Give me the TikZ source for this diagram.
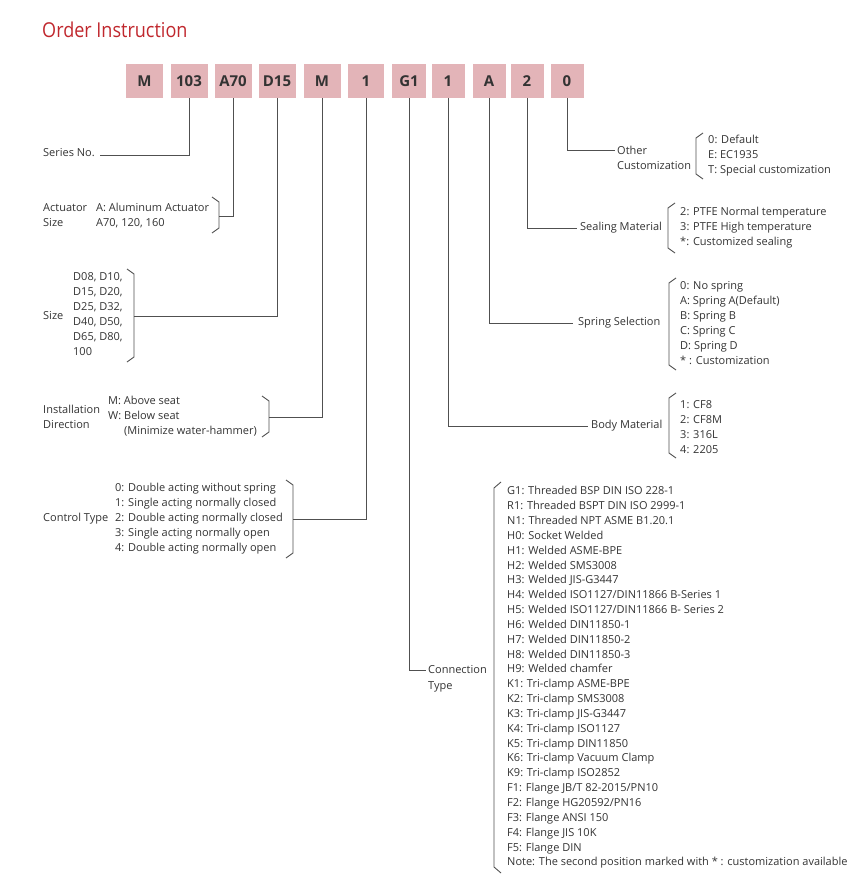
\documentclass[tikz,border=0pt]{standalone}
\usepackage{fontspec}
\setmainfont{Open Sans}
\newfontfamily\titlefont{Open Sans}[FakeStretch=0.88]
\definecolor{boxpink}{HTML}{E3B4B8}
\definecolor{txt}{HTML}{333333}
\definecolor{ln}{HTML}{505050}
\definecolor{titlered}{HTML}{C0272D}
\begin{document}
\begin{tikzpicture}[x=1pt,y=-1pt,
  codebox/.style={fill=boxpink, draw=none, minimum height=34pt, inner sep=0,
    font=\fontsize{15}{18}\selectfont\bfseries, text=txt},
  lbl/.style={inner sep=0, font=\fontsize{11}{15}\selectfont, text=txt, align=left, anchor=west},
  conn/.style={draw=ln, line width=0.9pt},
]
\useasboundingbox (0,0) rectangle (867,878);
% title
\node[anchor=base west, inner sep=0, text=titlered, font=\titlefont\fontsize{20.5}{24}\selectfont] (title) at (42,37) {Order Instruction};
% code boxes
\node[codebox, minimum width=37pt] (b1) at (144.5,81) {M};
\node[codebox, minimum width=37pt] (b2) at (189,81) {103};
\node[codebox, minimum width=37pt] (b3) at (233,81) {A70};
\node[codebox, minimum width=37pt] (b4) at (277,81) {D15};
\node[codebox, minimum width=37pt] (b5) at (322,81) {M};
\node[codebox, minimum width=36pt] (b6) at (366,81) {1};
\node[codebox, minimum width=34pt] (b7) at (409,81) {G1};
\node[codebox, minimum width=33pt] (b8) at (448,81) {1};
\node[codebox, minimum width=33pt] (b9) at (489,81) {A};
\node[codebox, minimum width=33pt] (b10) at (527,81) {2};
\node[codebox, minimum width=33pt] (b11) at (567,81) {0};
% left side labels
\node[lbl] (series) at (43,153) {Series No.};
\node[lbl] (actL) at (43,215.5) {Actuator\\Size};
\node[lbl] (actI) at (96,215.5) {A: Aluminum Actuator\\A70, 120, 160};
\node[lbl] (sizeL) at (43,316) {Size};
\node[lbl] (sizeI) at (73,314.5) {D08, D10,\\D15, D20,\\D25, D32,\\D40, D50,\\D65, D80,\\100};
\node[lbl] (instL) at (43,417) {Installation\\Direction};
\node[lbl] (instI) at (108,416.5) {M: Above seat\\W: Below seat\\\phantom{W: }(Minimize water-hammer)};
\node[lbl] (ctrlL) at (43,519) {Control Type};
\node[lbl] (ctrlI) at (115,519) {0: Double acting without spring\\1: Single acting normally closed\\2: Double acting normally closed\\3: Single acting normally open\\4: Double acting normally open};
% right side labels
\node[lbl] (otherL) at (617,157.5) {Other\\Customization};
\node[lbl] (otherI) at (708,156) {0: Default\\E: EC1935\\T: Special customization};
\node[lbl] (sealL) at (580,228) {Sealing Material};
\node[lbl] (sealI) at (680,228) {2: PTFE Normal temperature\\3: PTFE High temperature\\*: Customized sealing};
\node[lbl] (springL) at (578,323) {Spring Selection};
\node[lbl] (springI) at (680,323.5) {0: No spring\\A: Spring A(Default)\\B: Spring B\\C: Spring C\\D: Spring D\\* : Customization};
\node[lbl] (bodyL) at (591,426) {Body Material};
\node[lbl] (bodyI) at (680,427.5) {1: CF8\\2: CF8M\\3: 316L\\4: 2205};
\node[lbl, font=\fontsize{11}{16}\selectfont] (connL) at (428,679) {Connection\\Type};
\node[lbl, font=\fontsize{11}{14.84}\selectfont] (connI) at (507,677.5) {G1: Threaded BSP DIN ISO 228-1\\R1: Threaded BSPT DIN ISO 2999-1\\N1: Threaded NPT ASME B1.20.1\\H0: Socket Welded\\H1: Welded ASME-BPE\\H2: Welded SMS3008\\H3: Welded JIS-G3447\\H4: Welded ISO1127/DIN11866 B-Series 1\\H5: Welded ISO1127/DIN11866 B- Series 2\\H6: Welded DIN11850-1\\H7: Welded DIN11850-2\\H8: Welded DIN11850-3\\H9: Welded chamfer\\K1: Tri-clamp ASME-BPE\\K2: Tri-clamp SMS3008\\K3: Tri-clamp JIS-G3447\\K4: Tri-clamp ISO1127\\K5: Tri-clamp DIN11850\\K6: Tri-clamp Vacuum Clamp\\K9: Tri-clamp ISO2852\\F1: Flange JB/T 82-2015/PN10\\F2: Flange HG20592/PN16\\F3: Flange ANSI 150\\F4: Flange JIS 10K\\F5: Flange DIN\\Note: The second position marked with * : customization available};
% braces (right-facing)
\draw[conn] (212,197) -- (219,202) -- (219,228) -- (212,233);
\draw[conn] (127,269) -- (134,274) -- (134,357) -- (127,362);
\draw[conn] (262,396) -- (269,401) -- (269,432) -- (262,437);
\draw[conn] (286,480) -- (293,485) -- (293,553) -- (286,558);
% braces (left-facing)
\draw[conn] (703,133) -- (696,138) -- (696,174) -- (703,179);
\draw[conn] (675,203) -- (668,208) -- (668,248) -- (675,253);
\draw[conn] (676,278) -- (669,283) -- (669,365) -- (676,370);
\draw[conn] (676,393) -- (669,398) -- (669,453) -- (676,458);
\draw[conn] (501,482) -- (494,488) -- (494,867) -- (501,873);
% connector end points
\coordinate (cSeries) at (100,155);
\coordinate (cAct) at (219,216);
\coordinate (cSize) at (134,316);
\coordinate (cInst) at (269,417);
\coordinate (cCtrl) at (293,519);
\coordinate (cOther) at (615,150);
\coordinate (cSeal) at (577,228);
\coordinate (cSpring) at (573,323);
\coordinate (cBody) at (588,426);
\coordinate (cConn) at (426,670);
% connectors
\draw[conn] (b2.south) |- (cSeries);
\draw[conn] (b3.south) |- (cAct);
\draw[conn] (b4.south) |- (cSize);
\draw[conn] (b5.south) |- (cInst);
\draw[conn] (b6.south) |- (cCtrl);
\draw[conn] (b7.south) |- (cConn);
\draw[conn] (b8.south) |- (cBody);
\draw[conn] (b9.south) |- (cSpring);
\draw[conn] (b10.south) |- (cSeal);
\draw[conn] (b11.south) |- (cOther);
\end{tikzpicture}
\end{document}
